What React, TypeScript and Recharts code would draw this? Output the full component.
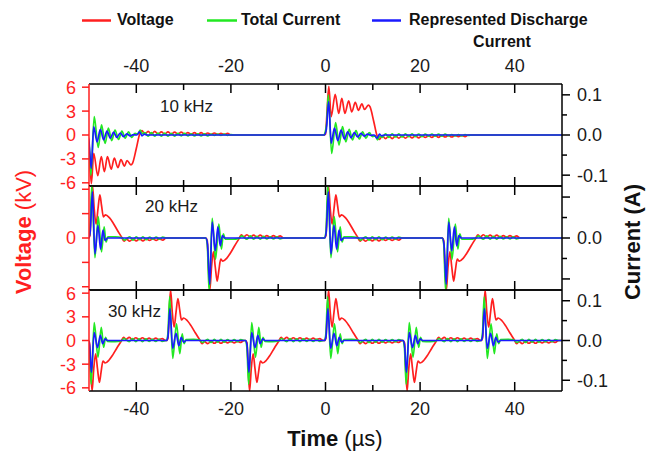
import React from 'react';
import { LineChart, Line, XAxis, YAxis } from 'recharts';

type Pt = [number, number];

// ---- pulse templates (positive polarity), [time offset µs, value] ----
// 10 kHz: long voltage pulse (kV)
const LONG_V: Pt[] = [
  [-0.3, 0], [0, 0.1], [0.35, 3.2], [0.7, 6.1], [1.2, 2.3], [2.05, 5.1], [2.8, 2.7], [3.45, 4.6],
  [4.1, 2.7], [4.9, 4.3], [5.55, 2.9], [6.3, 4.1], [6.95, 3.1], [7.7, 3.9], [8.25, 3.2], [9.05, 3.75],
  [9.4, 3.55], [10.2, 1.7], [10.9, -0.1], [11.4, -0.55], [12.0, -0.1], [12.7, -0.45], [13.4, -0.1],
  [14.1, -0.45], [14.8, -0.1], [15.5, -0.4], [16.2, -0.1], [16.9, -0.4], [17.6, -0.1], [18.3, -0.35],
  [19.0, -0.1], [19.7, -0.35], [20.4, -0.1], [21.1, -0.3], [21.8, -0.1], [22.5, -0.3], [23.2, -0.05],
  [23.9, -0.3], [24.6, -0.05], [25.3, -0.25], [26.0, -0.05], [26.7, -0.25], [27.4, -0.05], [28.1, -0.2],
  [28.8, -0.05], [29.5, -0.2], [30.2, 0], [31, 0],
];
// 10 kHz: total current (A)
const LONG_IT: Pt[] = [
  [-0.4, 0], [0, 0.01], [0.25, 0.03], [0.6, 0.1], [1.3, -0.046], [2.15, 0.031], [2.85, -0.025],
  [3.6, 0.021], [4.3, -0.017], [5.0, 0.014], [5.7, -0.0125], [6.45, 0.011], [7.15, -0.01], [7.85, 0.008],
  [8.55, -0.008], [9.25, 0.006], [9.95, -0.004], [10.5, -0.002], [11.0, -0.012], [11.5, -0.003],
  [12.0, -0.006], [12.7, 0.003], [13.4, -0.006], [14.1, 0.003], [14.8, -0.005], [15.5, 0.003],
  [16.2, -0.005], [16.9, 0.003], [17.6, -0.004], [18.3, 0.003], [19.0, -0.004], [19.7, 0.002],
  [20.4, -0.004], [21.1, 0.002], [21.8, -0.003], [22.5, 0.002], [23.2, -0.003], [23.9, 0.002],
  [24.6, -0.003], [25.3, 0.002], [26.0, -0.002], [26.7, 0.001], [27.4, -0.002], [28.1, 0.001],
  [28.8, -0.002], [29.5, 0.001], [30.2, -0.001], [31, 0],
];
// 10 kHz: represented discharge current (A)
const LONG_ID: Pt[] = [
  [-0.3, 0], [0.15, 0.012], [0.67, 0.083], [1.2, -0.02], [1.9, 0.017], [2.6, -0.014], [3.3, 0.012],
  [4.0, -0.01], [4.7, 0.008], [5.4, -0.007], [6.1, 0.006], [6.8, -0.005], [7.5, 0.004], [8.2, -0.003],
  [8.9, 0.002], [9.6, -0.001], [10.3, 0], [10.9, -0.008], [11.4, 0.002], [11.9, -0.002], [12.5, 0],
];
// 20/30 kHz: short voltage pulse (kV)
const SHORT_V: Pt[] = [
  [-0.2, 0], [0.1, 0.3], [0.35, 3.5], [0.65, 6.4], [1.0, 3.6], [1.4, 1.7], [1.8, 3.6], [2.2, 5.3],
  [2.55, 4.0], [2.95, 2.6], [3.4, 2.85], [4.2, 2.5], [5.0, 1.85], [5.9, 0.95], [6.8, 0.1], [7.3, -0.4],
  [7.8, -0.15], [8.5, -0.4], [9.2, -0.1], [9.9, -0.35], [10.6, -0.1], [11.3, -0.35], [12.0, -0.1],
  [12.7, -0.3], [13.4, -0.1], [14.1, -0.3], [14.8, -0.1], [15.5, -0.25], [16.2, 0],
];
// 20 kHz currents (A)
const SHORT2_IT: Pt[] = [
  [-0.2, 0], [0.1, 0.015], [0.5, 0.13], [1.15, -0.048], [1.85, 0.052], [2.55, -0.034], [3.1, 0.027],
  [3.5, -0.01], [3.9, 0.003], [5.5, 0.003], [6.8, 0.001], [7.4, -0.005], [8.5, 0.003], [9.2, -0.005],
  [9.9, 0.003], [10.6, -0.004], [11.3, 0.003], [12.0, -0.004], [12.7, 0.002], [13.4, -0.003],
  [14.1, 0.002], [14.8, -0.003], [15.5, 0.002], [16.2, 0],
];
const SHORT2_ID: Pt[] = [
  [-0.2, 0], [0.15, 0.015], [0.62, 0.113], [1.15, -0.039], [1.8, 0.031], [2.35, -0.027], [2.85, 0.019],
  [3.3, -0.006], [3.8, 0],
];
// 30 kHz currents (A)
const SHORT3_IT: Pt[] = [
  [-0.2, 0], [0.1, 0.02], [0.45, 0.11], [1.1, -0.045], [1.9, 0.042], [2.6, -0.033], [3.1, 0.017],
  [3.5, -0.008], [3.9, 0.002], [5.5, 0.003], [6.8, 0.001], [7.4, -0.005], [8.5, 0.003], [9.2, -0.005],
  [9.9, 0.003], [10.6, -0.004], [11.3, 0.003], [12.0, -0.004], [12.7, 0.002], [13.4, -0.003],
  [14.1, 0.002], [14.8, -0.003], [15.5, 0.002], [16.2, 0],
];
const SHORT3_ID: Pt[] = [
  [-0.2, 0], [0.1, 0.01], [0.5, 0.08], [1.1, -0.02], [1.8, 0.018], [2.4, -0.013], [2.9, 0.008],
  [3.4, -0.004], [3.9, 0],
];

// ---- pulse schedules: start time (µs) and polarity ----
const PULSES_10K = [{ t: -50.2, pol: -1 }, { t: 0, pol: 1 }];
const PULSES_20K = [{ t: -49.9, pol: 1 }, { t: -25.1, pol: -1 }, { t: 0, pol: 1 }, { t: 24.9, pol: -1 }];
const PULSES_30K = [
  { t: -50, pol: -1 }, { t: -33.4, pol: 1 }, { t: -16.7, pol: -1 },
  { t: 0, pol: 1 }, { t: 16.6, pol: -1 }, { t: 33.1, pol: 1 },
];

// ---- ticks / labels ----
const X_TICKS = [-40, -30, -20, -10, 0, 10, 20, 30, 40];
const X_LABELS = [-40, -20, 0, 20, 40];
const V_TICKS = [-6, -3, 0, 3, 6];
const I_TICKS = [-0.1, -0.05, 0, 0.05, 0.1];
const I_MAJOR = [-0.1, 0, 0.1];
const I_TEXT: Record<string, string> = { '0.1': '0.1', '0': '0.0', '-0.1': '-0.1' };
const FREQ_LABELS = ['10 kHz', '20 kHz', '30 kHz'];

const RED = '#ff1f1f';
const GREEN = '#22e822';
const BLUE = '#1a1aff';
const FONT = '"Liberation Sans", Arial, sans-serif';

function build(template: Pt[], pulses: { t: number; pol: number }[]) {
  const pts: { t: number; y: number }[] = [{ t: -52, y: 0 }];
  pulses.forEach((p) => template.forEach(([dt, y]) => pts.push({ t: p.t + dt, y: p.pol * y })));
  pts.push({ t: 52, y: 0 });
  pts.sort((a, b) => a.t - b.t);
  return pts;
}

const XTickMark = (props: any) => {
  const { x, y, payload, side, labels } = props;
  const v = payload.value;
  const major = X_LABELS.includes(v);
  const len = major ? 9 : 6;
  const dir = side === 'top' ? 1 : -1;
  return (
    <g>
      <line x1={x} x2={x} y1={y} y2={y + dir * len} stroke="#000" strokeWidth={1.5} />
      {labels && major && (
        <text x={x} y={side === 'top' ? y - 12 : y + 24} textAnchor="middle" fontSize={18} fill="#1a1a1a" fontFamily={FONT}>
          {v}
        </text>
      )}
    </g>
  );
};

const VTick = (props: any) => {
  const { x, y, payload, labels } = props;
  const v = payload.value;
  const show = labels === 'all' || v === 0;
  return (
    <g>
      <line x1={x} x2={x - 7} y1={y} y2={y} stroke={RED} strokeWidth={1.5} />
      {show && (
        <text x={x - 13} y={y} dy="0.36em" textAnchor="end" fontSize={18} fill={RED} fontFamily={FONT}>
          {v}
        </text>
      )}
    </g>
  );
};

const ITick = (props: any) => {
  const { x, y, payload, labels } = props;
  const v = payload.value;
  const major = I_MAJOR.includes(v);
  const show = major && (labels === 'all' || v === 0);
  return (
    <g>
      <line x1={x} x2={x + (major ? 8 : 5)} y1={y} y2={y} stroke="#000" strokeWidth={1.5} />
      {show && (
        <text x={x + 15} y={y} dy="0.36em" textAnchor="start" fontSize={18} fill="#1a1a1a" fontFamily={FONT}>
          {I_TEXT[String(v)]}
        </text>
      )}
    </g>
  );
};

type PanelProps = {
  plotTop: number;
  plotBottom: number;
  vData: { t: number; y: number }[];
  itData: { t: number; y: number }[];
  idData: { t: number; y: number }[];
  labels: 'all' | 'zero';
  topLabels: boolean;
  bottomLabels: boolean;
};

function Panel({ plotTop, plotBottom, vData, itData, idData, labels, topLabels, bottomLabels }: PanelProps) {
  const M = 30;
  const H = plotBottom - plotTop + 2 * M + 2;
  const frame = { stroke: '#000', strokeWidth: 1.5 };
  return (
    <div style={{ position: 'absolute', left: 0, top: plotTop - M - 1 }}>
      <LineChart width={651} height={H} margin={{ top: M, bottom: M, left: 48, right: 39 }}>
        <XAxis
          xAxisId="top" orientation="top" type="number" dataKey="t" domain={[-50, 50]} allowDataOverflow
          ticks={X_TICKS} interval={0} height={1} tickSize={0} tickMargin={0} tickLine={false}
          axisLine={frame} tick={<XTickMark side="top" labels={topLabels} />}
        />
        <XAxis
          xAxisId="bottom" orientation="bottom" type="number" dataKey="t" domain={[-50, 50]} allowDataOverflow
          ticks={X_TICKS} interval={0} height={1} tickSize={0} tickMargin={0} tickLine={false}
          axisLine={frame} tick={<XTickMark side="bottom" labels={bottomLabels} />}
        />
        <YAxis
          yAxisId="v" orientation="left" type="number" width={41} domain={[-6.4, 6.4]} allowDataOverflow
          ticks={V_TICKS} interval={0} tickSize={0} tickMargin={0} tickLine={false}
          axisLine={{ stroke: RED, strokeWidth: 1.5 }} tick={<VTick labels={labels} />}
        />
        <YAxis
          yAxisId="i" orientation="right" type="number" width={50} domain={[-0.127, 0.127]} allowDataOverflow
          ticks={I_TICKS} interval={0} tickSize={0} tickMargin={0} tickLine={false}
          axisLine={frame} tick={<ITick labels={labels} />}
        />
        <Line xAxisId="bottom" yAxisId="v" data={vData} dataKey="y" type="monotone" stroke={RED}
          strokeWidth={1.7} dot={false} isAnimationActive={false} />
        <Line xAxisId="bottom" yAxisId="i" data={itData} dataKey="y" type="monotone" stroke={GREEN}
          strokeWidth={1.7} dot={false} isAnimationActive={false} />
        <Line xAxisId="bottom" yAxisId="i" data={idData} dataKey="y" type="monotone" stroke={BLUE}
          strokeWidth={1.7} dot={false} isAnimationActive={false} />
      </LineChart>
    </div>
  );
}

export default function App() {
  const p1 = { v: build(LONG_V, PULSES_10K), it: build(LONG_IT, PULSES_10K), id: build(LONG_ID, PULSES_10K) };
  const p2 = { v: build(SHORT_V, PULSES_20K), it: build(SHORT2_IT, PULSES_20K), id: build(SHORT2_ID, PULSES_20K) };
  const p3 = { v: build(SHORT_V, PULSES_30K), it: build(SHORT3_IT, PULSES_30K), id: build(SHORT3_ID, PULSES_30K) };
  return (
    <div style={{ position: 'absolute', left: 0, top: 0, width: 651, height: 452, background: '#fff', fontFamily: FONT, overflow: 'hidden' }}>
      <Panel plotTop={84} plotBottom={186} vData={p1.v} itData={p1.it} idData={p1.id} labels="all" topLabels bottomLabels={false} />
      <Panel plotTop={186} plotBottom={290} vData={p2.v} itData={p2.it} idData={p2.id} labels="zero" topLabels={false} bottomLabels={false} />
      <Panel plotTop={290} plotBottom={391} vData={p3.v} itData={p3.it} idData={p3.id} labels="all" topLabels={false} bottomLabels />
      <svg width={651} height={452} style={{ position: 'absolute', left: 0, top: 0, pointerEvents: 'none' }} fontFamily={FONT}>
        {/* legend */}
        <line x1={82} x2={111} y1={20.5} y2={20.5} stroke={RED} strokeWidth={2.5} />
        <text x={117} y={25} fontSize={16} fontWeight="bold" fill="#111">Voltage</text>
        <line x1={207} x2={237} y1={20.5} y2={20.5} stroke={GREEN} strokeWidth={2.5} />
        <text x={241} y={25} fontSize={16} fontWeight="bold" fill="#111">Total Current</text>
        <line x1={372} x2={401} y1={20.5} y2={20.5} stroke={BLUE} strokeWidth={2.5} />
        <text x={409} y={25} fontSize={16} fontWeight="bold" fill="#111">Represented Discharge</text>
        <text x={502} y={47} fontSize={16} fontWeight="bold" fill="#111" textAnchor="middle">Current</text>
        {/* panel labels */}
        <text x={160} y={112} fontSize={17} fill="#1a1a1a">{FREQ_LABELS[0]}</text>
        <text x={145} y={212} fontSize={17} fill="#1a1a1a">{FREQ_LABELS[1]}</text>
        <text x={108} y={317} fontSize={17} fill="#1a1a1a">{FREQ_LABELS[2]}</text>
        {/* axis titles */}
        <text transform="translate(31,232) rotate(-90)" textAnchor="middle" fontSize={22} fill={RED}>
          <tspan fontWeight="bold">Voltage</tspan>
          <tspan> (kV)</tspan>
        </text>
        <text transform="translate(640,242) rotate(-90)" textAnchor="middle" fontSize={22} fontWeight="bold" fill="#111">
          Current (A)
        </text>
        <text x={335} y={446} textAnchor="middle" fontSize={22} fill="#111">
          <tspan fontWeight="bold">Time</tspan>
          <tspan> (µs)</tspan>
        </text>
      </svg>
    </div>
  );
}
